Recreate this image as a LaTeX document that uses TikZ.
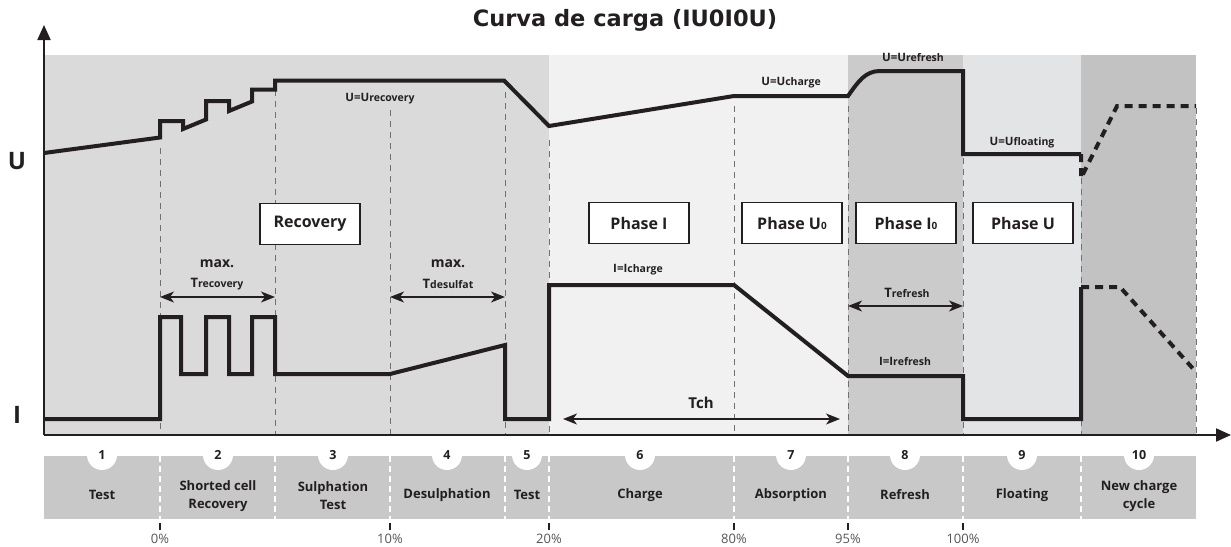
\documentclass[tikz,border=0pt]{standalone}
\usepackage{fontspec}
\setmainfont{Open Sans}
\newfontfamily\titlefont{DejaVu Sans}
\usetikzlibrary{arrows.meta}
\definecolor{ink}{HTML}{231F20}
\definecolor{bgA}{HTML}{DADADA}
\definecolor{bgB}{HTML}{F1F1F1}
\definecolor{bgC}{HTML}{CBCBCB}
\definecolor{bgD}{HTML}{E3E4E5}
\definecolor{bgE}{HTML}{C2C2C2}
\definecolor{stripgray}{HTML}{C8C8C8}
\definecolor{gridgray}{HTML}{707070}
\definecolor{pctgray}{HTML}{555555}
\newcommand\subtxt[1]{{\fontsize{10.5}{10.5}\selectfont #1}}
\newcommand\boxsub[1]{{\fontsize{10}{10}\selectfont #1}}
\begin{document}
\begin{tikzpicture}[x=1pt,y=-1pt,
  curve/.style={line width=4pt, draw=ink, line join=miter},
  dcurve/.style={curve, dash pattern=on 8pt off 6pt},
  gridline/.style={draw=gridgray, line width=0.9pt, dash pattern=on 6pt off 5pt},
  axisline/.style={draw=ink, line width=2pt, -{Triangle[length=15pt,width=13pt]}},
  dimarrow/.style={draw=ink, line width=1.3pt, {Stealth[length=14pt,width=11pt,inset=4pt]}-{Stealth[length=14pt,width=11pt,inset=4pt]}},
  phasebox/.style={draw=ink, line width=1.3pt, fill=white, minimum width=100pt, minimum height=41pt, inner sep=0pt, font=\fontsize{16}{16}\selectfont\bfseries, text=ink},
  lbl/.style={font=\fontsize{11.5}{11.5}\selectfont\bfseries, text=ink, inner sep=0pt},
  maxlbl/.style={font=\fontsize{14}{14}\selectfont\bfseries, text=ink, inner sep=0pt},
  axlbl/.style={font=\fontsize{24}{24}\selectfont\bfseries, text=ink, inner sep=0pt},
  numcirc/.style={circle, fill=white, minimum size=30pt, inner sep=0pt, font=\fontsize{12.5}{12.5}\selectfont\bfseries, text=ink},
  striplbl/.style={font=\fontsize{13}{18}\selectfont\bfseries, text=ink, align=center, inner sep=0pt},
  pct/.style={font=\fontsize{13}{13}\selectfont, text=pctgray, inner sep=0pt},
  divider/.style={draw=white, line width=1.2pt, dash pattern=on 6pt off 4pt},
  tickmark/.style={draw=ink, line width=1.3pt}
]
\useasboundingbox (0,0) rectangle (1231,546);

% backgrounds
\fill[bgA] (44,55) rectangle (549,435);
\fill[bgB] (549,55) rectangle (848,435);
\fill[bgC] (848,55) rectangle (963,435);
\fill[bgD] (963,55) rectangle (1081,435);
\fill[bgE] (1081,55) rectangle (1196,435);

% grid lines
\draw[gridline] (160,148) -- (160,435);
\draw[gridline] (275,90) -- (275,435);
\draw[gridline] (390,110) -- (390,435);
\draw[gridline] (505,92) -- (505,435);
\draw[gridline] (549,140) -- (549,435);
\draw[gridline] (734,106) -- (734,435);
\draw[gridline] (848,106) -- (848,435);
\draw[gridline] (963,158) -- (963,435);
\draw[gridline] (1081,178) -- (1081,435);
\draw[gridline] (1196,108) -- (1196,435);

% axes
\coordinate (origin) at (44,435);
\coordinate (ytip) at (44,25);
\coordinate (xtip) at (1231,435);
\draw[axisline] (origin) -- (ytip);
\draw[axisline] (origin) -- (xtip);
\node[axlbl] (ulab) at (17,161) {U};
\node[axlbl] (ilab) at (17,415) {I};

% title
\node[font=\titlefont\fontsize{22.5}{22.5}\selectfont\bfseries, text=ink, inner sep=0pt] (title) at (625,20) {Curva de carga (IU0I0U)};

% U curve
\draw[curve] (44,153) -- (160,137.5) -- (160,121) -- (183,121) -- (183,129) -- (206,119.5)
  -- (206,101) -- (229,101) -- (229,111) -- (252,101.5) -- (252,89.5) -- (275,89.5)
  -- (275,80.5) -- (504,80.5) -- (549,126) -- (734,96) -- (848,96)
  .. controls (858,82) and (865,71) .. (880,71) -- (963,71) -- (963,154) -- (1081,154);
\draw[dcurve] (1081,154) -- (1081,178) -- (1117,106) -- (1196,106);

% I curve
\draw[curve] (44,419) -- (160,419) -- (160,317) -- (181,317) -- (181,374) -- (206,374)
  -- (206,317) -- (229,317) -- (229,374) -- (252,374) -- (252,317) -- (275,317)
  -- (275,374) -- (390,374) -- (505,345) -- (505,419) -- (549,419) -- (549,285)
  -- (734,285) -- (848,376) -- (963,376) -- (963,419) -- (1081,419) -- (1081,287);
\draw[dcurve] (1081,287) -- (1120,287) -- (1196,372);

% curve labels
\node[lbl] (lrec) at (380,99) {U=U\subtxt{recovery}};
\node[lbl] (lchg) at (791,83) {U=U\subtxt{charge}};
\node[lbl] (lref) at (913,57) {U=U\subtxt{refresh}};
\node[lbl] (lflt) at (1022,143) {U=U\subtxt{floating}};
\node[lbl] (licg) at (638,270) {I=I\subtxt{charge}};
\node[lbl] (lirf) at (905,361) {I=I\subtxt{refresh}};

% dimension arrows
\coordinate (tra) at (160,297); \coordinate (trb) at (275,297);
\coordinate (tda) at (390,297); \coordinate (tdb) at (505,297);
\coordinate (tca) at (563,419); \coordinate (tcb) at (840,419);
\coordinate (tfa) at (848,306); \coordinate (tfb) at (963,306);
\draw[dimarrow] (tra) -- (trb);
\draw[dimarrow] (tda) -- (tdb);
\draw[dimarrow] (tca) -- (tcb);
\draw[dimarrow] (tfa) -- (tfb);
\node[maxlbl] (mx1) at (217,264) {max.};
\node[font=\fontsize{13}{13}\selectfont\bfseries, text=ink, inner sep=0pt] (trec) at (217,284) {T\subtxt{recovery}};
\node[maxlbl] (mx2) at (448,264) {max.};
\node[font=\fontsize{13}{13}\selectfont\bfseries, text=ink, inner sep=0pt] (tdes) at (448,284) {T\subtxt{desulfat}};
\node[font=\fontsize{15}{15}\selectfont\bfseries, text=ink, inner sep=0pt] (tch) at (701,403) {Tch};
\node[font=\fontsize{13}{13}\selectfont\bfseries, text=ink, inner sep=0pt] (tref) at (907,293) {T\subtxt{refresh}};

% phase boxes
\node[phasebox] (bRec) at (310,224) {Recovery};
\node[phasebox] (bPI) at (639,223) {Phase I};
\node[phasebox] (bPU0) at (792,223) {Phase U\boxsub{0}};
\node[phasebox] (bPI0) at (906,223) {Phase I\boxsub{0}};
\node[phasebox] (bPU) at (1023,223) {Phase U};

% bottom strip
\fill[stripgray] (44,456) rectangle (1196,519);
\foreach \xx in {160,275,390,505,549,734,848,963,1081}
  \draw[divider] (\xx,456) -- (\xx,519);
\node[numcirc] (c1) at (102,455) {1};
\node[numcirc] (c2) at (218,455) {2};
\node[numcirc] (c3) at (333,455) {3};
\node[numcirc] (c4) at (447,455) {4};
\node[numcirc] (c5) at (527,455) {5};
\node[numcirc] (c6) at (640,455) {6};
\node[numcirc] (c7) at (791,455) {7};
\node[numcirc] (c8) at (905,455) {8};
\node[numcirc] (c9) at (1022,455) {9};
\node[numcirc] (c10) at (1139,455) {10};
\node[striplbl] (s1) at (102,495) {Test};
\node[striplbl] (s2) at (218,496) {Shorted cell\\Recovery};
\node[striplbl] (s3) at (333,496) {Sulphation\\Test};
\node[striplbl] (s4) at (447,495) {Desulphation};
\node[striplbl] (s5) at (527,495) {Test};
\node[striplbl] (s6) at (640,495) {Charge};
\node[striplbl] (s7) at (791,495) {Absorption};
\node[striplbl] (s8) at (905,495) {Refresh};
\node[striplbl] (s9) at (1022,495) {Floating};
\node[striplbl] (s10) at (1139,496) {New charge\\cycle};

% ticks and percentages
\foreach \xx/\tt in {160/0\%,390/10\%,549/20\%,734/80\%,848/95\%,963/100\%}{
  \draw[tickmark] (\xx,523) -- (\xx,530);
  \node[pct] at (\xx,539) {\tt};
}
\end{tikzpicture}
\end{document}
